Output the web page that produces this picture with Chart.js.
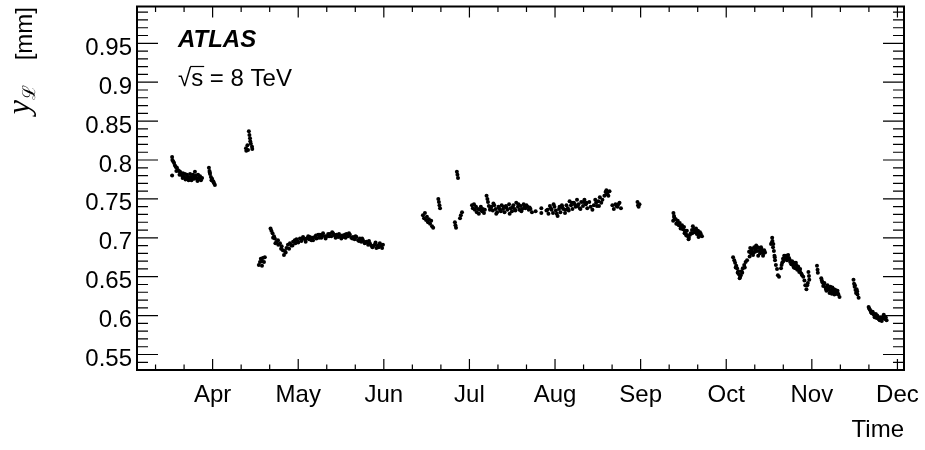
<!DOCTYPE html>
<html>
<head>
<meta charset="utf-8">
<script src="https://cdn.jsdelivr.net/npm/chart.js@4/dist/chart.umd.min.js"></script>
<style>
  body { margin: 0; background: #fff; }
</style>
</head>
<body>
<canvas id="lumi" width="925" height="450"></canvas>
<script>
// time axis: days after the "Apr" tick, one label every 30 days
const monthLabels = ['Apr', 'May', 'Jun', 'Jul', 'Aug', 'Sep', 'Oct', 'Nov', 'Dec'];
const monthDays = [0, 30, 60, 90, 120, 150, 180, 210, 240];
const yTickValues = [0.55, 0.6, 0.65, 0.7, 0.75, 0.8, 0.85, 0.9, 0.95];

// y_L [mm] per fill
const aprDays = [-14.2, -14.1, -14.2, -13.5, -13.2, -12.9, -12.5, -12.2, -11.8, -11.4,
  -11.1, -10.7, -10.4, -10.0, -9.7, -9.3, -9.0, -8.6, -8.3, -7.9,
  -7.6, -7.2, -6.9, -6.5, -6.2, -5.8, -5.5, -5.1, -4.8, -4.4, -4.1, -3.7,
  -13.8, -12.7, -11.6, -10.5, -9.5, -8.4, -7.4, -6.3, -5.3, -4.2,
  -1.3, -1.1, -0.9, -0.6, -0.2, 0.1, 0.5, 0.8, -1.0, -0.4, 0.3,
  11.7, 11.8, 12.2, 12.4, 12.7, 12.9, 13.1, 13.2, 13.4, 13.8, 13.9,
  16.2, 16.6, 16.9, 17.3, 17.6, 18.0, 18.3, 17.3];
const aprY = [0.804, 0.800, 0.780, 0.796, 0.793, 0.791, 0.790, 0.787, 0.786, 0.785,
  0.782, 0.780, 0.783, 0.778, 0.782, 0.777, 0.781, 0.778, 0.776, 0.782,
  0.778, 0.777, 0.781, 0.776, 0.785, 0.780, 0.776, 0.781, 0.777, 0.779, 0.774, 0.777,
  0.798, 0.786, 0.781, 0.777, 0.775, 0.774, 0.774, 0.779, 0.773, 0.776,
  0.790, 0.786, 0.782, 0.778, 0.776, 0.773, 0.770, 0.768, 0.784, 0.774, 0.772,
  0.815, 0.812, 0.819, 0.813, 0.837, 0.832, 0.828, 0.824, 0.821, 0.817, 0.814,
  0.665, 0.669, 0.673, 0.670, 0.674, 0.669, 0.675, 0.664];

const mayDays = [20.3, 20.6, 21.0, 21.5, 21.8, 22.4, 22.9, 23.6, 24.2, 24.6,
  25.0, 25.3, 25.9, 26.4, 27.1, 27.6, 28.2, 28.8, 29.4, 29.9,
  30.6, 31.1, 31.7, 32.3, 32.9, 33.5, 34.1, 34.6, 35.2, 35.8,
  36.4, 37.0, 37.6, 38.1, 38.7, 39.3, 39.9, 40.5, 41.1, 41.6,
  42.2, 42.8, 43.4, 44.0, 44.6, 45.1, 45.7, 46.3, 46.9, 47.5,
  48.1, 48.6, 49.2, 49.8, 50.4, 51.0, 51.6, 52.1, 52.7, 53.3,
  53.9, 54.5, 55.1, 55.6, 56.2, 56.8, 57.4, 57.9, 58.6, 59.1, 59.7,
  21.2, 22.0, 23.0, 24.0, 25.6, 26.8, 28.0, 29.0, 30.0, 31.4,
  32.6, 33.8, 35.0, 36.2, 37.3, 38.4, 39.6, 40.8, 41.9, 43.1,
  44.3, 45.4, 46.6, 47.8, 49.0, 50.1, 51.3, 52.4, 53.6, 54.8,
  56.0, 57.1, 58.2, 59.4];
const mayY = [0.712, 0.709, 0.706, 0.702, 0.699, 0.695, 0.697, 0.693, 0.689, 0.684,
  0.678, 0.683, 0.687, 0.691, 0.693, 0.690, 0.695, 0.697, 0.698, 0.695,
  0.699, 0.696, 0.701, 0.698, 0.699, 0.702, 0.701, 0.697, 0.697, 0.701,
  0.699, 0.704, 0.704, 0.700, 0.706, 0.702, 0.702, 0.705, 0.705, 0.702,
  0.706, 0.703, 0.704, 0.701, 0.702, 0.699, 0.701, 0.704, 0.705, 0.702,
  0.704, 0.700, 0.701, 0.698, 0.701, 0.697, 0.699, 0.695, 0.697, 0.693,
  0.695, 0.691, 0.693, 0.690, 0.689, 0.691, 0.687, 0.690, 0.693, 0.690, 0.691,
  0.700, 0.693, 0.691, 0.686, 0.681, 0.686, 0.690, 0.693, 0.694, 0.699,
  0.695, 0.698, 0.700, 0.703, 0.700, 0.703, 0.699, 0.702, 0.707, 0.700,
  0.705, 0.703, 0.700, 0.706, 0.699, 0.702, 0.696, 0.699, 0.694, 0.696,
  0.688, 0.694, 0.688, 0.687];

const julDays = [73.7, 74.1, 74.4, 74.8, 75.1, 75.5, 75.8, 76.2, 76.6, 76.9, 77.3,
  79.1, 79.3, 79.5, 79.7, 85.6, 85.8, 86.0, 84.9, 85.1, 85.3, 86.7, 87.0, 87.4,
  90.9, 91.2, 91.6, 91.9, 92.3, 92.6, 93.0, 93.3, 93.7, 94.0, 94.4, 94.7, 95.1, 95.4,
  96.0, 96.3, 96.5,
  96.8, 97.2, 97.7, 98.2, 98.7, 99.2, 99.7, 100.2, 100.7, 101.3,
  101.8, 102.3, 102.8, 103.3, 103.9, 104.4, 104.9, 105.4, 105.9, 106.4,
  107.0, 107.5, 108.0, 108.5, 109.0, 109.6, 110.3, 110.8, 111.4, 111.9,
  97.4, 98.4, 99.4, 100.4, 101.0, 102.0, 103.0, 104.1, 105.1, 106.1,
  107.2, 108.2, 109.3, 110.0, 111.1];
const julY = [0.729, 0.725, 0.732, 0.723, 0.727, 0.720, 0.724, 0.718, 0.722, 0.715, 0.713,
  0.750, 0.746, 0.742, 0.738, 0.785, 0.781, 0.777, 0.720, 0.716, 0.713, 0.725, 0.729, 0.733,
  0.742, 0.738, 0.743, 0.736, 0.740, 0.733, 0.737, 0.731, 0.736, 0.740, 0.734, 0.737, 0.732, 0.736,
  0.754, 0.750, 0.746,
  0.741, 0.736, 0.740, 0.735, 0.742, 0.737, 0.733, 0.740, 0.736, 0.742,
  0.737, 0.733, 0.741, 0.736, 0.743, 0.738, 0.734, 0.742, 0.737, 0.745,
  0.740, 0.736, 0.741, 0.737, 0.743, 0.738, 0.740, 0.736, 0.737, 0.733,
  0.738, 0.744, 0.731, 0.738, 0.734, 0.740, 0.739, 0.731, 0.739, 0.735,
  0.743, 0.734, 0.740, 0.742, 0.739];

const augDays = [113.2, 115.2, 115.2, 117.4, 117.7, 118.2, 118.8, 119.3, 119.8, 120.3,
  120.9, 121.4, 121.9, 122.4, 122.9, 123.5, 124.0, 124.5, 125.1, 125.6,
  126.1, 126.6, 127.2, 127.7, 128.2, 128.7, 129.2, 129.8, 130.3, 130.8,
  131.3, 132.0, 133.1, 133.6, 134.1, 134.7, 135.2, 135.7, 136.2,
  137.3, 137.7, 138.0, 138.4, 138.7, 139.1,
  140.1, 140.6, 141.2, 141.9, 142.6, 143.1,
  148.9, 149.1, 149.3, 149.6,
  117.0, 118.5, 119.5, 120.6, 121.6, 122.6, 123.7, 124.8, 125.9, 126.9,
  127.9, 128.9, 130.0, 131.0, 132.5, 134.4, 135.4, 136.6, 138.2, 141.5, 142.2];
const augY = [0.734, 0.738, 0.732, 0.736, 0.731, 0.741, 0.736, 0.732, 0.740, 0.735,
  0.728, 0.737, 0.733, 0.742, 0.737, 0.732, 0.742, 0.738, 0.747, 0.742,
  0.737, 0.745, 0.740, 0.749, 0.743, 0.738, 0.746, 0.741, 0.749, 0.743,
  0.738, 0.746, 0.736, 0.742, 0.749, 0.741, 0.747, 0.752, 0.745,
  0.754, 0.759, 0.761, 0.758, 0.754, 0.760,
  0.742, 0.737, 0.743, 0.740, 0.745, 0.738,
  0.746, 0.742, 0.740, 0.743,
  0.735, 0.738, 0.743, 0.731, 0.740, 0.739, 0.736, 0.735, 0.745, 0.743,
  0.741, 0.737, 0.746, 0.745, 0.740, 0.745, 0.741, 0.749, 0.756, 0.741, 0.743];

const sepDays = [161.5, 161.7, 161.4, 162.3, 162.7, 163.0, 163.4, 163.7, 164.1, 164.5,
  164.8, 165.2, 165.5, 165.9, 166.2, 166.6, 166.9, 167.3, 167.6, 168.0,
  168.3, 168.7, 169.0, 169.4, 169.7, 170.1, 170.4, 170.8, 171.1, 171.5,
  161.8, 162.5, 163.2, 164.0, 164.7, 165.4, 166.0, 166.8, 168.1, 168.9,
  169.6, 170.3, 171.0];
const sepY = [0.732, 0.728, 0.722, 0.724, 0.719, 0.722, 0.716, 0.719, 0.714, 0.716,
  0.711, 0.714, 0.709, 0.705, 0.709, 0.702, 0.700, 0.704, 0.706, 0.710,
  0.715, 0.711, 0.707, 0.712, 0.705, 0.709, 0.704, 0.707, 0.705, 0.702,
  0.726, 0.718, 0.717, 0.712, 0.713, 0.706, 0.703, 0.698, 0.706, 0.710,
  0.708, 0.701, 0.703];

const octDays = [182.4, 182.8, 183.1, 183.5, 183.8, 184.2, 184.5, 184.7, 185.1, 185.4,
  185.8, 186.3, 186.8, 187.3, 188.0, 188.4, 188.7, 189.1, 189.4, 189.8,
  190.1, 190.5, 190.8, 191.2, 191.5, 191.9, 192.2, 192.6, 192.9, 193.3,
  195.7, 196.1, 196.2, 196.4, 196.7, 196.9, 197.1, 197.4, 197.8, 198.1,
  198.5, 199.2, 199.6, 199.9, 200.3, 200.6, 201.0, 201.3, 201.7, 202.0,
  202.4, 202.8, 203.1, 203.5, 203.8, 204.2, 204.5, 204.9, 205.2, 205.6,
  205.9, 206.3, 207.0, 207.4, 207.7, 208.1, 208.4, 208.8, 209.0, 209.1,
  211.8, 212.0, 212.1,
  183.3, 184.0, 184.9, 185.6, 186.5, 188.2, 188.9, 189.6, 190.3, 191.0,
  191.7, 192.4, 193.0, 193.6, 196.0, 196.5, 197.0, 199.4, 200.0, 200.8,
  201.5, 202.2, 203.0, 203.7, 204.4, 205.1, 205.8, 206.6, 208.6];
const octY = [0.675, 0.671, 0.668, 0.664, 0.661, 0.657, 0.653, 0.648, 0.652, 0.657,
  0.661, 0.665, 0.669, 0.671, 0.682, 0.687, 0.680, 0.686, 0.678, 0.688,
  0.682, 0.690, 0.683, 0.677, 0.687, 0.680, 0.688, 0.682, 0.677, 0.684,
  0.692, 0.700, 0.696, 0.688, 0.683, 0.677, 0.671, 0.665, 0.660, 0.652,
  0.650, 0.661, 0.668, 0.673, 0.677, 0.673, 0.677, 0.671, 0.678, 0.674,
  0.669, 0.666, 0.670, 0.664, 0.668, 0.661, 0.665, 0.659, 0.663, 0.656,
  0.660, 0.654, 0.650, 0.645, 0.639, 0.634, 0.639, 0.656, 0.651, 0.646,
  0.664, 0.659, 0.655,
  0.662, 0.655, 0.650, 0.655, 0.662, 0.676, 0.684, 0.681, 0.686, 0.688,
  0.683, 0.685, 0.680, 0.681, 0.694, 0.692, 0.675, 0.665, 0.670, 0.674,
  0.674, 0.672, 0.666, 0.662, 0.668, 0.662, 0.657, 0.652, 0.642];

const novDays = [213.3, 213.7, 214.0, 214.4, 214.8, 215.1, 215.5, 215.8, 216.2, 216.5,
  216.9, 217.2, 217.6, 217.9, 218.3, 218.6, 219.0, 219.3, 219.7,
  224.6, 224.8, 225.0, 225.3, 225.5, 225.7, 226.0, 226.4,
  229.9, 230.3, 230.6, 231.0, 231.3, 231.7, 232.0, 232.4, 232.7, 233.1,
  233.4, 233.8, 234.1, 234.5, 234.8, 235.2, 235.5, 235.9, 236.2,
  213.5, 214.2, 215.0, 215.6, 216.3, 217.0, 217.8, 218.5, 219.2, 225.1,
  225.9, 230.1, 230.8, 231.5, 232.2, 232.9, 233.6, 234.3, 235.0, 235.7];
const novY = [0.648, 0.643, 0.638, 0.642, 0.636, 0.632, 0.639, 0.634, 0.629, 0.637,
  0.632, 0.636, 0.630, 0.627, 0.633, 0.628, 0.632, 0.627, 0.624,
  0.646, 0.641, 0.637, 0.633, 0.629, 0.634, 0.627, 0.623,
  0.611, 0.608, 0.606, 0.603, 0.605, 0.601, 0.598, 0.602, 0.597, 0.599,
  0.596, 0.594, 0.598, 0.593, 0.597, 0.601, 0.596, 0.598, 0.594,
  0.645, 0.640, 0.634, 0.635, 0.633, 0.628, 0.634, 0.631, 0.628, 0.639,
  0.631, 0.609, 0.604, 0.603, 0.600, 0.600, 0.595, 0.595, 0.599, 0.596];

const periods = [[aprDays, aprY], [mayDays, mayY], [julDays, julY], [augDays, augY],
  [sepDays, sepY], [octDays, octY], [novDays, novY]];

const points = [];
periods.forEach(([d, v]) => d.forEach((day, i) => points.push({x: day, y: v[i]})));

const sansFont = '"Liberation Sans", Arial, Helvetica, sans-serif';

// ROOT-like frame: inward ticks on all four sides, labels, titles
const rootFrame = {
  id: 'rootFrame',
  afterDatasetsDraw(chart) {
    const {ctx, chartArea: area, scales} = chart;
    const sx = scales.x, sy = scales.y;
    ctx.save();
    ctx.strokeStyle = '#000';
    ctx.fillStyle = '#000';

    ctx.lineWidth = 1.2;
    ctx.beginPath();
    for (let d = -20; d <= 240; d += 10) {
      const px = sx.getPixelForValue(d);
      const len = d % 30 === 0 ? 11 : 5.5;
      ctx.moveTo(px, area.bottom); ctx.lineTo(px, area.bottom - len);
      ctx.moveTo(px, area.top); ctx.lineTo(px, area.top + len);
    }
    for (let k = 54; k <= 99; k++) {
      const py = sy.getPixelForValue(k / 100);
      const len = k % 5 === 0 ? 21 : 11;
      ctx.moveTo(area.left, py); ctx.lineTo(area.left + len, py);
      ctx.moveTo(area.right, py); ctx.lineTo(area.right - len, py);
    }
    ctx.stroke();

    ctx.lineWidth = 2;
    ctx.strokeRect(area.left, area.top, area.right - area.left, area.bottom - area.top);

    ctx.font = '24px ' + sansFont;
    ctx.textBaseline = 'alphabetic';
    ctx.textAlign = 'right';
    yTickValues.forEach(v => ctx.fillText(String(v), area.left - 5, sy.getPixelForValue(v) + 11.5));
    ctx.textAlign = 'center';
    monthLabels.forEach((m, i) => ctx.fillText(m, sx.getPixelForValue(monthDays[i]), area.bottom + 31.5));
    ctx.textAlign = 'right';
    ctx.fillText('Time', area.right, area.bottom + 67);

    // ATLAS label
    ctx.textAlign = 'left';
    ctx.font = 'italic bold 24px ' + sansFont;
    ctx.fillText('ATLAS', 178, 46.5);
    ctx.font = '24px ' + sansFont;
    const rootW = ctx.measureText('√').width;
    ctx.fillText('√s = 8 TeV', 178, 86);
    const sW = ctx.measureText('s').width;
    ctx.lineWidth = 1.2;
    ctx.beginPath();
    ctx.moveTo(178 + rootW - 1, 66.5);
    ctx.lineTo(178 + rootW + sW + 1, 66.5);
    ctx.stroke();

    // y axis title, rotated, aligned to the top
    ctx.translate(32, 7);
    ctx.rotate(-Math.PI / 2);
    ctx.textAlign = 'right';
    ctx.font = '24px ' + sansFont;
    ctx.fillText('[mm]', 0, 0);
    ctx.font = '18px "DejaVu Serif", serif';
    ctx.fillText('ℒ', -78, 3);
    const lW = ctx.measureText('ℒ').width;
    ctx.font = 'italic 32px "Liberation Serif", "Times New Roman", serif';
    ctx.fillText('y', -78 - lW, -3);
    ctx.restore();
  }
};

new Chart(document.getElementById('lumi'), {
  type: 'scatter',
  data: {
    datasets: [{
      label: 'y_L',
      data: points,
      backgroundColor: '#000',
      borderColor: '#000',
      borderWidth: 0,
      pointRadius: 2,
      pointHoverRadius: 2
    }]
  },
  options: {
    responsive: false,
    animation: false,
    devicePixelRatio: 1,
    layout: { padding: { left: 137, right: 21, top: 6.5, bottom: 80 } },
    scales: {
      x: { type: 'linear', min: -26.5, max: 242.3, display: false },
      y: { type: 'linear', min: 0.5301, max: 0.9973, display: false }
    },
    plugins: {
      legend: { display: false },
      tooltip: { enabled: false }
    }
  },
  plugins: [rootFrame]
});
</script>
</body>
</html>
